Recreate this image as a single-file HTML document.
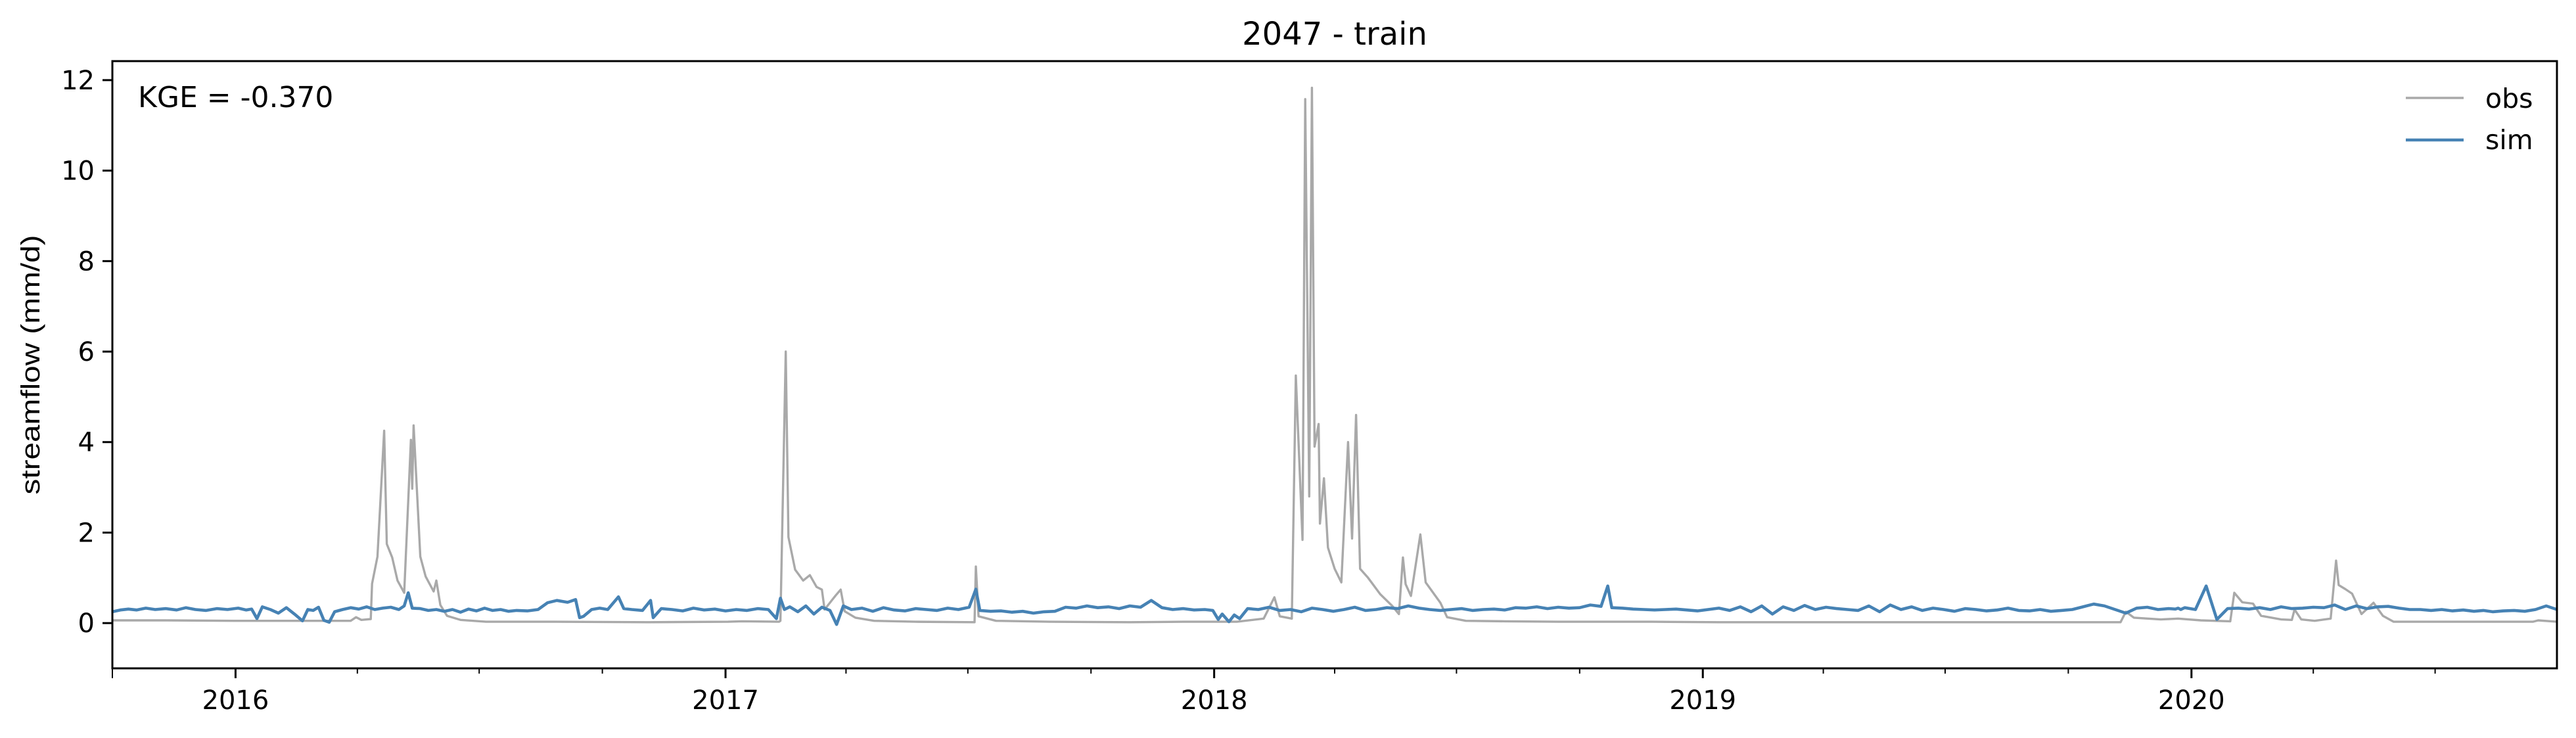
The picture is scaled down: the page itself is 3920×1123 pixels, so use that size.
<!DOCTYPE html>
<html><head><meta charset="utf-8"><style>
html,body{margin:0;padding:0;background:#fff;}
svg text{font-family:"DejaVu Sans","Liberation Sans",sans-serif;fill:#000;}
</style></head><body>
<svg id="chart" xmlns="http://www.w3.org/2000/svg" width="3920" height="1118" viewBox="0 0 3920 1118">
<rect x="0" y="0" width="3920" height="1118" fill="#fff"/>
<text x="2031" y="68" font-size="48" text-anchor="middle">2047 - train</text>
<g id="plot"></g>
<g id="axes"></g>
<text x="210" y="163" font-size="44">KGE = -0.370</text>
<text transform="translate(60,555) rotate(-90)" font-size="40" text-anchor="middle" style="font-family:'Liberation Sans',sans-serif" textLength="395" lengthAdjust="spacingAndGlyphs">streamflow (mm/d)</text>
<g>
<g>
<line x1="3661" y1="149" x2="3749" y2="149" stroke="#a9a9a9" stroke-width="3.4"/>
<text x="3782" y="164" font-size="41">obs</text></g>
<g>
<line x1="3661" y1="213" x2="3749" y2="213" stroke="#4682b4" stroke-width="4.4"/>
<text x="3782" y="227" font-size="41">sim</text></g>
</g>
</svg>
<script>
// day offsets from 2015-10-01
const yTicks = [0, 2, 4, 6, 8, 10, 12];
const yearLabels = ["2016", "2017", "2018", "2019", "2020"];
const obsDays = [0,40,90,150,178,182,186,193,194,198,203,205,209,213,218,223,224,225,230,234,240,242,245,250,260,279,330,400,460,470,498,499,503,505,510,516,521,526,530,532,540,544,547,555,569,600,644,645,647,660,700,760,800,840,860,868,872,881,884,889,891,894,896,898,901,902,905,908,913,918,923,926,929,932,938,947,956,961,964,966,970,977,981,992,997,1011,1040,1080,1110,1150,1200,1260,1320,1380,1440,1500,1504,1510,1530,1543,1560,1582,1585,1591,1599,1605,1620,1628,1630,1635,1645,1657,1661,1663,1668,1673,1680,1689,1696,1704,1760,1808,1812,1826];
const obsVals = [0.06,0.06,0.05,0.05,0.05,0.13,0.07,0.09,0.87,1.47,4.25,1.75,1.45,0.94,0.67,4.05,2.97,4.37,1.47,1.03,0.7,0.94,0.4,0.16,0.07,0.03,0.03,0.02,0.03,0.04,0.03,0.05,6.0,1.9,1.18,0.94,1.06,0.8,0.74,0.3,0.6,0.74,0.26,0.12,0.05,0.03,0.02,1.25,0.15,0.05,0.03,0.02,0.03,0.03,0.1,0.57,0.15,0.1,5.47,1.84,11.58,2.8,11.83,3.9,4.4,2.2,3.2,1.67,1.2,0.9,4.0,1.87,4.6,1.2,1.0,0.64,0.38,0.2,1.45,0.86,0.6,1.96,0.9,0.45,0.13,0.05,0.04,0.03,0.03,0.03,0.02,0.02,0.02,0.02,0.02,0.02,0.25,0.12,0.08,0.1,0.06,0.04,0.67,0.46,0.43,0.16,0.08,0.07,0.3,0.08,0.05,0.1,1.38,0.84,0.75,0.65,0.2,0.45,0.16,0.03,0.03,0.03,0.06,0.03];
const simDays = [0,6,12,18,25,32,40,48,55,62,70,78,86,94,100,104,108,112,118,124,130,136,142,146,150,154,158,162,166,172,178,184,190,196,202,208,214,218,221,224,230,236,242,248,254,260,266,272,278,284,290,296,302,310,318,325,332,340,346,349,352,358,364,370,378,382,388,396,402,404,410,418,426,434,442,450,458,466,474,482,490,496,499,502,506,512,518,524,530,536,541,546,552,560,568,576,584,592,600,608,616,624,632,640,645,648,656,664,672,680,688,696,704,712,720,728,736,744,752,760,768,776,784,792,800,808,816,822,826,829,834,838,842,848,856,864,872,880,888,896,904,912,920,928,936,944,952,960,968,976,984,992,1000,1008,1016,1024,1032,1040,1048,1056,1064,1072,1080,1088,1096,1104,1112,1117,1120,1128,1136,1144,1152,1160,1168,1176,1184,1192,1200,1208,1216,1224,1232,1240,1248,1256,1264,1272,1280,1288,1296,1304,1312,1320,1328,1336,1344,1352,1360,1368,1376,1384,1392,1400,1408,1416,1424,1432,1440,1448,1456,1464,1472,1480,1488,1496,1504,1512,1520,1528,1536,1541,1543,1545,1548,1556,1564,1572,1580,1588,1596,1604,1612,1620,1628,1636,1644,1652,1660,1668,1676,1684,1692,1700,1708,1716,1724,1732,1740,1748,1756,1764,1771,1778,1786,1794,1802,1810,1818,1826];
const simVals = [0.25,0.29,0.31,0.29,0.33,0.3,0.32,0.29,0.34,0.3,0.28,0.32,0.3,0.33,0.29,0.31,0.1,0.36,0.3,0.22,0.34,0.2,0.05,0.3,0.28,0.35,0.06,0.02,0.25,0.3,0.34,0.31,0.36,0.3,0.33,0.35,0.3,0.38,0.67,0.33,0.32,0.28,0.3,0.26,0.3,0.24,0.31,0.27,0.33,0.28,0.3,0.26,0.28,0.27,0.3,0.45,0.5,0.46,0.52,0.12,0.15,0.3,0.33,0.3,0.58,0.32,0.3,0.28,0.5,0.12,0.32,0.3,0.27,0.33,0.29,0.31,0.27,0.3,0.28,0.32,0.3,0.1,0.55,0.3,0.36,0.25,0.38,0.2,0.35,0.28,-0.03,0.38,0.3,0.33,0.26,0.34,0.29,0.27,0.32,0.3,0.28,0.33,0.3,0.35,0.75,0.28,0.26,0.27,0.24,0.26,0.22,0.25,0.26,0.35,0.33,0.38,0.34,0.36,0.32,0.38,0.35,0.5,0.34,0.3,0.32,0.29,0.3,0.28,0.08,0.2,0.03,0.18,0.1,0.32,0.3,0.35,0.28,0.3,0.25,0.33,0.3,0.26,0.3,0.35,0.28,0.3,0.34,0.32,0.38,0.33,0.3,0.28,0.3,0.32,0.28,0.3,0.31,0.29,0.34,0.33,0.36,0.32,0.35,0.33,0.34,0.4,0.37,0.82,0.34,0.33,0.31,0.3,0.29,0.3,0.31,0.29,0.27,0.3,0.33,0.28,0.36,0.25,0.38,0.2,0.36,0.28,0.39,0.3,0.35,0.32,0.3,0.28,0.38,0.25,0.4,0.3,0.36,0.28,0.33,0.3,0.26,0.32,0.3,0.27,0.29,0.33,0.28,0.27,0.3,0.26,0.28,0.3,0.36,0.42,0.38,0.3,0.22,0.33,0.35,0.3,0.32,0.31,0.33,0.3,0.34,0.3,0.82,0.08,0.32,0.33,0.31,0.34,0.3,0.36,0.32,0.33,0.35,0.34,0.4,0.3,0.38,0.32,0.36,0.37,0.33,0.3,0.3,0.28,0.3,0.27,0.29,0.26,0.28,0.25,0.27,0.28,0.26,0.3,0.38,0.3,0.42,0.32,0.44,0.36,0.43,0.42,0.3,0.28,0.27];

const X0 = 171, X1 = 3891, Y0 = 93, Y1 = 1017;
const DMAX = 1826, YMIN = -1, YMAX = 12.42;
const NS = "http://www.w3.org/2000/svg";
function xScale(d){ return X0 + d * (X1 - X0) / DMAX; }
function yScale(v){ return Y1 - (v - YMIN) * (Y1 - Y0) / (YMAX - YMIN); }
function dayOf(y, m){ return Math.round((Date.UTC(y, m, 1) - Date.UTC(2015, 9, 1)) / 86400000); }
function mk(tag, attrs, parent){ const e = document.createElementNS(NS, tag); for (const k in attrs) e.setAttribute(k, attrs[k]); parent.appendChild(e); return e; }

const plot = document.getElementById('plot');
const axes = document.getElementById('axes');

function series(days, vals, color, w, name){
  let d = '';
  for (let i = 0; i < days.length; i++) d += (i ? 'L' : 'M') + xScale(days[i]).toFixed(1) + ' ' + yScale(vals[i]).toFixed(1);
  const p = mk('path', {d: d, fill: 'none', stroke: color, 'stroke-width': w, 'stroke-linejoin': 'round'}, plot);
  
  
}
series(obsDays, obsVals, '#a9a9a9', 3.4, 'obs-line');
series(simDays, simVals, '#4682b4', 4.6, 'sim-line');

const frame = mk('rect', {x: X0, y: Y0, width: X1 - X0, height: Y1 - Y0, fill: 'none', stroke: '#000', 'stroke-width': 3}, axes);



yTicks.forEach(v => {
  const y = yScale(v);
  const t = mk('line', {x1: X0 - 15, y1: y, x2: X0, y2: y, stroke: '#000', 'stroke-width': 3}, axes);
  
  
  const l = mk('text', {x: X0 - 27, y: y + 14, 'font-size': 40, 'text-anchor': 'end'}, axes);
  l.textContent = String(v);
  
  
});

yearLabels.forEach(s => {
  const x = xScale(dayOf(parseInt(s), 0));
  const t = mk('line', {x1: x, y1: Y1, x2: x, y2: Y1 + 15, stroke: '#000', 'stroke-width': 3}, axes);
  
  
  const l = mk('text', {x: x, y: 1079, 'font-size': 40, 'text-anchor': 'middle'}, axes);
  l.textContent = s;
  
  
});
for (let y = 2015; y <= 2020; y++) {
  [3, 6, 9].forEach(m => {
    const d = dayOf(y, m);
    if (d < 0 || d > DMAX) return;
    const x = xScale(d);
    const len = d === 0 ? 15 : 8;
    const t = mk('line', {x1: x, y1: Y1, x2: x, y2: Y1 + len, stroke: '#000', 'stroke-width': 2}, axes);
    
    
  });
}
</script>
</body></html>
